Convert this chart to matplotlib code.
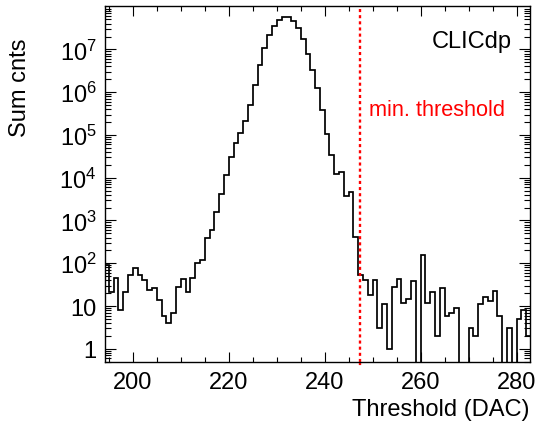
import numpy as np
import matplotlib
matplotlib.use("Agg")
import matplotlib.pyplot as plt
from matplotlib.ticker import FixedLocator, MultipleLocator, LogLocator, NullFormatter

plt.rcParams['font.family'] = ['Liberation Sans', 'DejaVu Sans']
plt.rcParams['mathtext.fontset'] = 'custom'
plt.rcParams['mathtext.rm'] = 'Liberation Sans'
plt.rcParams['mathtext.it'] = 'Liberation Sans:italic'
plt.rcParams['mathtext.bf'] = 'Liberation Sans:bold'

# ---- data ----
bin_start = 194          # first bin low edge (DAC), bins are 1 DAC wide
counts = [
    89, 21, 45, 8, 21, 54, 79, 52, 40, 24,          # 194-203
    26, 14, 6, 4, 7, 28, 44, 21, 45, 101,           # 204-213
    121, 380, 590, 1590, 4270, 11500, 30900, 63500, 114000, 210000,   # 214-223
    500000, 1500000, 4200000, 10700000, 22000000, 36000000, 48000000, 56000000, 56000000, 45000000,  # 224-233
    31000000, 17400000, 7900000, 3300000, 1230000, 380000, 108000, 34000, 12500, 13500,  # 234-243
    3700, 4700, 413, 52, 40, 18, 40, 3, 11, 1,      # 244-253
    28, 44, 12, 15, 38, 0, 159, 12, 21, 2,          # 254-263
    26, 6, 7, 9, 0, 0, 3, 2, 11, 16,                # 264-273
    13, 22, 6, 0, 3, 0, 5, 8, 2,                    # 274-282
]
threshold = 247.35
xlabel = "Threshold (DAC)"
ylabel = "Sum cnts"
x_major = [200, 220, 240, 260, 280]
x_major_labels = ["200", "220", "240", "260", "280"]
y_major = [1, 10, 100, 1e3, 1e4, 1e5, 1e6, 1e7]
y_major_labels = ["1", "10", r"$\mathregular{10^{2}}$", r"$\mathregular{10^{3}}$",
                  r"$\mathregular{10^{4}}$", r"$\mathregular{10^{5}}$",
                  r"$\mathregular{10^{6}}$", r"$\mathregular{10^{7}}$"]
label_text = "min. threshold"
tag_text = "CLICdp"

# ---- figure ----
W, H = 545, 431
fig = plt.figure(figsize=(W / 100, H / 100), dpi=100)
ax = fig.add_axes([105 / W, 1 - 362.7 / H, (530 - 105) / W, (362.7 - 6.7) / H])

counts = np.asarray(counts, dtype=float)
edges = bin_start + np.arange(len(counts) + 1)
plot_vals = np.where(counts > 0, counts, 1e-3)
ax.stairs(plot_vals, edges, color='black', lw=1.25, baseline=None)

ax.set_yscale('log')
ax.set_xlim(194.2, 282.8)
ax.set_ylim(0.5, 1.05e8)

ax.axvline(threshold, ymin=0, ymax=1, color='#ff0000', lw=1.7,
           linestyle=(0, (1.3, 1.3)))
# extend below the axis a little, like the reference
ax.plot([threshold, threshold], [0.5, 0.38], color='#ff0000', lw=1.7,
        linestyle=(0, (1.3, 1.3)), clip_on=False)

ax.xaxis.set_major_locator(FixedLocator(x_major))
ax.set_xticklabels(x_major_labels)
ax.xaxis.set_minor_locator(MultipleLocator(5))
ax.yaxis.set_major_locator(FixedLocator(y_major))
ax.set_yticklabels(y_major_labels)
ax.yaxis.set_minor_locator(LogLocator(base=10, subs=np.arange(2, 10), numticks=20))
ax.yaxis.set_minor_formatter(NullFormatter())

ax.tick_params(axis='both', which='both', direction='in', top=True, right=True,
               labelsize=17, width=0.8, colors='black')
ax.tick_params(axis='x', which='major', length=7.2, pad=7)
ax.tick_params(axis='x', which='minor', length=3.6)
ax.tick_params(axis='y', which='major', length=8, pad=6)
ax.tick_params(axis='y', which='minor', length=4)
for s in ax.spines.values():
    s.set_linewidth(1.0)

fig.text(530 / W, 1 - 410 / H, xlabel, ha='right', va='center', fontsize=17)
fig.text(20 / W, 1 - 88 / H, ylabel, ha='center', va='center', rotation=90, fontsize=17)
fig.text(369 / W, 1 - 111 / H, label_text, ha='left', va='center', fontsize=15.7, color='#ff0000')
fig.text(512 / W, 1 - 42 / H, tag_text, ha='right', va='center', fontsize=17)

fig.savefig("out.png", dpi=100)
